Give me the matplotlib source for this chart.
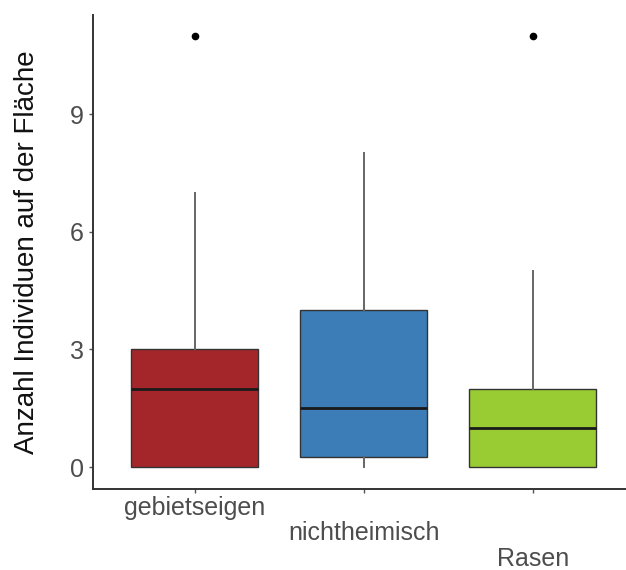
import matplotlib as mpl
mpl.use("Agg")
import matplotlib.pyplot as plt

# box statistics
groups = ["gebietseigen", "nichtheimisch", "Rasen"]
q1 = [0, 0.25, 0]
medians = [2, 1.5, 1]
q3 = [3, 4, 2]
whislo = [0, 0, 0]
whishi = [7, 8, 5]
fliers = [[11], [], [11]]
colors = ["#A5262A", "#3C7DB8", "#99CC33"]

plt.rcParams["font.family"] = ["Liberation Sans", "DejaVu Sans"]

fig = plt.figure(figsize=(6.26, 5.7), dpi=100)
ax = fig.add_axes([0.1486, 0.1421, 0.8514, 0.8316])

stats = []
for i in range(len(groups)):
  stats.append(dict(label=groups[i], q1=q1[i], med=medians[i], q3=q3[i],
                    whislo=whislo[i], whishi=whishi[i], fliers=fliers[i]))

bp = ax.bxp(stats, positions=[1, 2, 3], widths=0.75, patch_artist=True,
            showcaps=False,
            boxprops=dict(edgecolor="#333333", linewidth=1.0),
            medianprops=dict(color="#1a1a1a", linewidth=2.0),
            whiskerprops=dict(color="#666666", linewidth=1.4),
            flierprops=dict(marker="o", markerfacecolor="black",
                            markeredgecolor="black", markersize=4.5))
for patch, c in zip(bp["boxes"], colors):
  patch.set_facecolor(c)

ax.set_xlim(0.4, 3.55)
ax.set_ylim(-0.56, 11.53)
ax.set_yticks([0, 3, 6, 9])

ax.set_xticks([1, 2, 3])
ax.set_xticklabels(["gebietseigen", "\nnichtheimisch", "\n\nRasen"],
                   linespacing=1.08)

for s in ["top", "right"]:
  ax.spines[s].set_visible(False)
for s in ["left", "bottom"]:
  ax.spines[s].set_color("#333333")
  ax.spines[s].set_linewidth(1.4)

ax.tick_params(axis="both", colors="#555555", labelcolor="#4d4d4d",
               labelsize=18, length=3, width=1)
ax.tick_params(axis="x", pad=2)
ax.set_ylabel("Anzahl Individuen auf der Fläche", fontsize=20,
              color="#111111")
ax.yaxis.set_label_coords(-0.10, 0.5)

fig.savefig("out.png", dpi=100, facecolor="white")
